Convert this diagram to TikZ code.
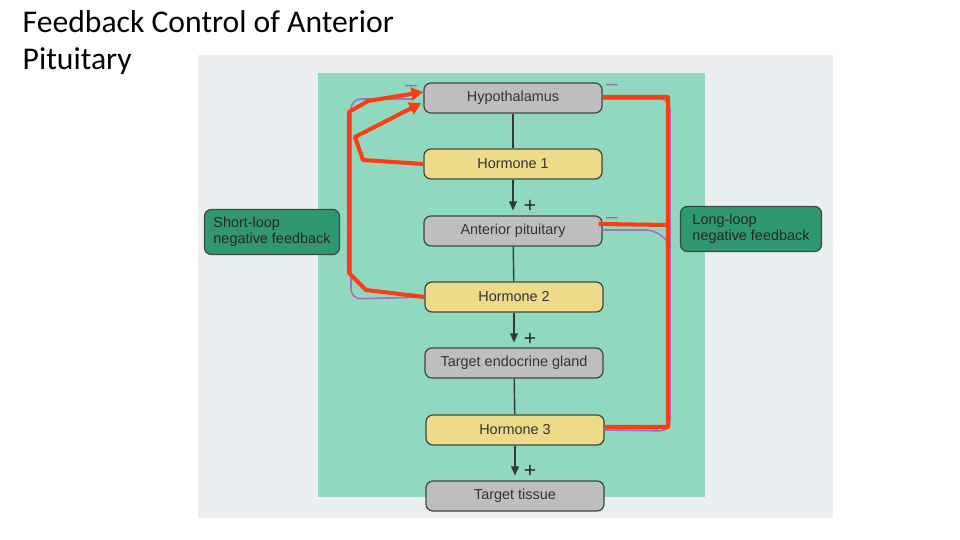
\documentclass[tikz,border=0pt]{standalone}
\usepackage{fontspec}
\setmainfont{Liberation Sans}
\newfontfamily\titlefont{Carlito}
\usetikzlibrary{arrows.meta}

\definecolor{photobg}{RGB}{236,239,242}
\definecolor{panelteal}{RGB}{144,216,192}
\definecolor{boxgray}{RGB}{190,189,191}
\definecolor{boxyellow}{RGB}{237,219,138}
\definecolor{boxline}{RGB}{62,72,64}
\definecolor{loopgreen}{RGB}{48,152,112}
\definecolor{fbred}{RGB}{252,60,20}
\definecolor{fbpurple}{RGB}{168,110,190}
\definecolor{minusgray}{RGB}{140,122,160}
\definecolor{inktext}{RGB}{50,52,54}

\tikzset{
  stage/.style={draw=boxline, line width=0.35pt, rounded corners=0.07cm,
    minimum width=1.78cm, minimum height=0.30cm, inner sep=0pt,
    font=\fontsize{4.1}{4.8}\selectfont, text=inktext},
  graystage/.style={stage, fill=boxgray},
  yellowstage/.style={stage, fill=boxyellow},
  loopnote/.style={draw=boxline, line width=0.35pt, fill=loopgreen,
    rounded corners=0.07cm, minimum height=0.45cm, align=left, inner sep=0pt,
    font=\fontsize{4.1}{4.6}\selectfont, text=black!85},
  chain/.style={draw=boxline!80!black, line width=0.4pt},
  chaintip/.style={chain, -{Triangle[length=2.6pt,width=2.2pt]}, shorten >=1.4pt},
  feedback/.style={draw=fbred, line width=1.15pt, line join=round},
  redtip/.style={-{Triangle[length=3.4pt,width=3.6pt]}},
  oldpath/.style={draw=fbpurple, line width=0.45pt, rounded corners=0.1cm},
  sign/.style={font=\fontsize{6}{6}\selectfont, text=black!85, inner sep=0pt},
  minus/.style={font=\fontsize{6}{6}\selectfont, text=minusgray, inner sep=0pt},
}

\begin{document}
\begin{tikzpicture}[x=0.01cm, y=-0.01cm]
  \useasboundingbox (0,0) rectangle (960,540);

  %% title
  \node[anchor=north west, align=left, inner sep=0pt,
    font=\titlefont\fontsize{9}{10.4}\selectfont] (title) at (22,10)
    {Feedback Control of Anterior\\Pituitary};

  %% photo and panel
  \fill[photobg] (198,55) rectangle (833,518);
  \fill[panelteal] (318,73) rectangle (705,497);

  %% stages
  \node[graystage]   (hyp) at (513,98)  {Hypothalamus};
  \node[yellowstage] (h1)  at (513,164) {Hormone 1};
  \node[graystage]   (ant) at (513,231) {Anterior pituitary};
  \node[yellowstage] (h2)  at (514,297) {Hormone 2};
  \node[graystage]   (teg) at (514,363) {Target endocrine gland};
  \node[yellowstage] (h3)  at (515,430) {Hormone 3};
  \node[graystage]   (tt)  at (515,496) {Target tissue};

  %% loop labels
  \node[loopnote, minimum width=1.35cm] (short) at (272,232) {Short-loop\\negative feedback};
  \node[loopnote, minimum width=1.41cm] (long)  at (751,229) {Long-loop\\negative feedback};

  %% chain
  \draw[chain] (hyp) -- (h1);
  \draw[chaintip] (h1) -- (ant);
  \draw[chain] (ant) -- (h2);
  \draw[chaintip] (h2) -- (teg);
  \draw[chain] (teg) -- (h3);
  \draw[chaintip] (h3) -- (tt);
  \foreach \ypos in {206, 339, 471}
    \node[sign] at (530,\ypos) {+};

  %% printed feedback paths
  \draw[oldpath] (412,99) -- (351,99) -- (351,299) -- (h2.west);
  \draw[oldpath] ([yshift=-0.01cm]hyp.east) -- (670,99) -- (670,431) -- (h3.east);
  \draw[oldpath] ([yshift=0.01cm]ant.east) -- (656,230) -- (670,244);
  \node[minus] at (411,88)  {--};
  \node[minus] at (612,87)  {--};
  \node[minus] at (612,220) {--};

  %% drawn-over feedback
  \coordinate (junc) at (668,225);
  \draw[feedback, redtip] (h2.west) -- (366,290) -- (349,273) -- (349,112)
    -- (368,101) -- ([yshift=0.06cm]hyp.west);
  \draw[feedback, redtip] (h1.west) -- (363,160) -- (355,137)
    -- ([xshift=-0.02cm, yshift=-0.05cm]hyp.west);
  \draw[feedback] ([yshift=0.01cm]hyp.east) -- (668,97) -- (668,427)
    -- ([yshift=0.03cm]h3.east);
  \draw[feedback] (junc) -- ([xshift=-0.04cm, yshift=0.07cm]ant.east);
\end{tikzpicture}
\end{document}
